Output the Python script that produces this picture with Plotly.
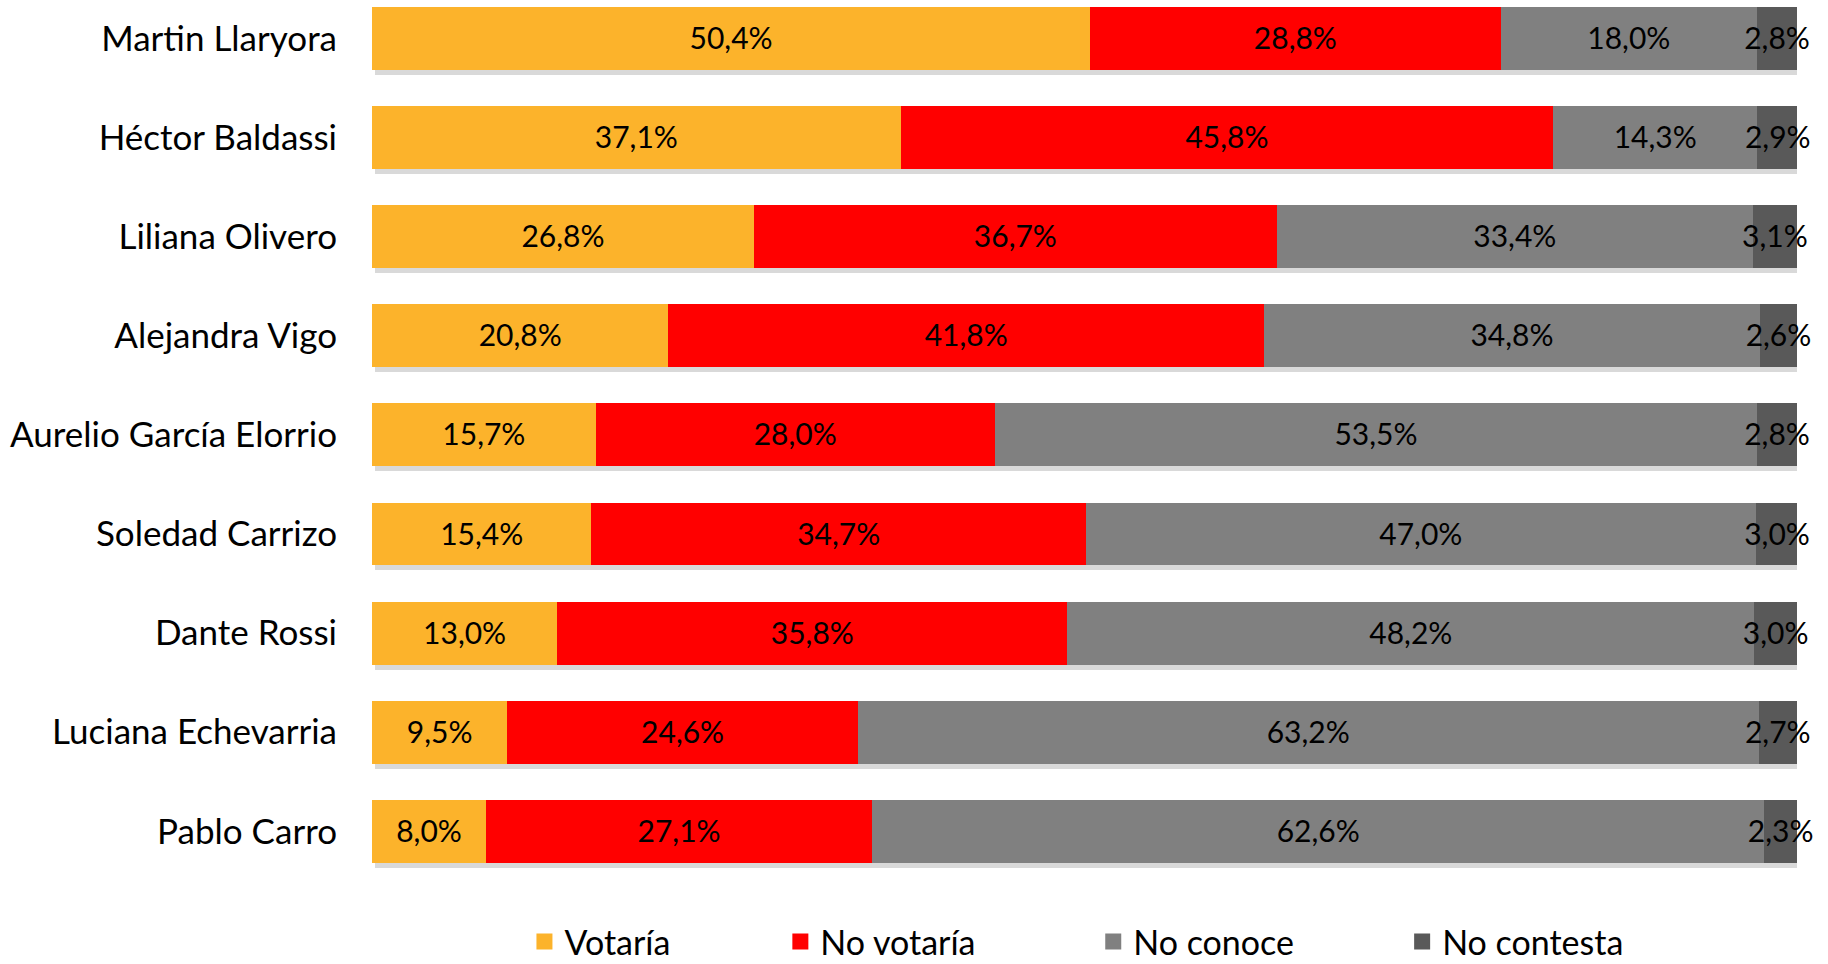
import plotly.graph_objects as go

candidates = ["Martin Llaryora", "Héctor Baldassi", "Liliana Olivero", "Alejandra Vigo",
              "Aurelio García Elorrio", "Soledad Carrizo", "Dante Rossi",
              "Luciana Echevarria", "Pablo Carro"]
votaria = [50.4, 37.1, 26.8, 20.8, 15.7, 15.4, 13.0, 9.5, 8.0]
no_votaria = [28.8, 45.8, 36.7, 41.8, 28.0, 34.7, 35.8, 24.6, 27.1]
no_conoce = [18.0, 14.3, 33.4, 34.8, 53.5, 47.0, 48.2, 63.2, 62.6]
no_contesta = [2.8, 2.9, 3.1, 2.6, 2.8, 3.0, 3.0, 2.7, 2.3]

series = [
    ("Votaría", votaria, "#FCB32B"),
    ("No votaría", no_votaria, "#FF0000"),
    ("No conoce", no_conoce, "#808080"),
    ("No contesta", no_contesta, "#595959"),
]
totals = [a + b + c + d for a, b, c, d in zip(votaria, no_votaria, no_conoce, no_contesta)]

FONT = "Lato"
W, H = 1828, 964
ML, MR, MT, MB = 371.5, 31, 0, 84
pw = W - ML - MR
ph = H - MT - MB
row = 99.1
c0 = 38.5
ytop = -c0 / row
ybot = (ph - c0) / row
sx, sy = 3 / (pw / 100), 5 / row
ty = 3 / row

fig = go.Figure()
# drop shadow
fig.add_trace(go.Bar(y=candidates, x=totals, orientation="h",
                     marker=dict(color="rgba(0,0,0,0.15)", line=dict(width=0)),
                     showlegend=False, hoverinfo="skip", xaxis="x", yaxis="y"))

base = [0.0] * len(candidates)
for i, (name, vals, col) in enumerate(series):
    fig.add_trace(go.Bar(y=candidates, x=vals, orientation="h", name=name,
                         marker=dict(color=col, line=dict(width=0)),
                         showlegend=False, xaxis="x2", yaxis="y2"))
    base = [b + v for b, v in zip(base, vals)]

base = [0.0] * len(candidates)
for i, (name, vals, col) in enumerate(series):
    mids = [b + v / 2 for b, v in zip(base, vals)]
    labels = [f"{v:.1f}".replace(".", ",") + "%" for v in vals]
    fig.add_trace(go.Scatter(x=mids, y=candidates, mode="text", text=labels,
                             textposition="middle center", cliponaxis=False,
                             textfont=dict(family=FONT, size=30, color="black"),
                             showlegend=False, hoverinfo="skip", xaxis="x2", yaxis="y3"))
    base = [b + v for b, v in zip(base, vals)]
    lg = "legend" if i == 0 else f"legend{i+1}"
    fig.add_trace(go.Scatter(x=[None], y=[None], mode="markers", name=name,
                             marker=dict(symbol="square", size=16, color=col),
                             legend=lg, xaxis="x2", yaxis="y2", showlegend=True))

centers = [544, 800, 1113, 1422]
legend_cfg = {}
for i, cx in enumerate(centers):
    key = "legend" if i == 0 else f"legend{i+1}"
    legend_cfg[key] = dict(x=(cx - 20 - ML) / pw, xanchor="left", y=-(942 - ph) / ph, yanchor="middle",
                           orientation="h", font=dict(family=FONT, size=34, color="black"),
                           bgcolor="rgba(0,0,0,0)", borderwidth=0)

fig.update_layout(
    width=W, height=H, barmode="stack", bargap=0.365,
    margin=dict(l=ML, r=MR, t=MT, b=MB, pad=0, autoexpand=False),
    paper_bgcolor="white", plot_bgcolor="white",
    xaxis=dict(range=[-sx, 100 - sx], visible=False, fixedrange=True),
    yaxis=dict(range=[ybot - sy, ytop - sy], type="category", categoryorder="array", categoryarray=candidates,
               showticklabels=False, showgrid=False, zeroline=False, showline=False),
    xaxis2=dict(range=[0, 100], visible=False, overlaying="x"),
    yaxis2=dict(range=[ybot, ytop], type="category", categoryorder="array", categoryarray=candidates,
                overlaying="y", side="left", showgrid=False, zeroline=False, showline=False,
                ticks="", ticklabelstandoff=34,
                tickfont=dict(family=FONT, size=35, color="black")),
    yaxis3=dict(range=[ybot - ty, ytop - ty], type="category", categoryorder="array", categoryarray=candidates,
                overlaying="y", showticklabels=False, showgrid=False, zeroline=False, showline=False),
    **legend_cfg,
)

fig.write_html("out.html", config={"displayModeBar": False},
               post_script="document.body.style.margin='0';document.body.style.overflow='hidden';")
